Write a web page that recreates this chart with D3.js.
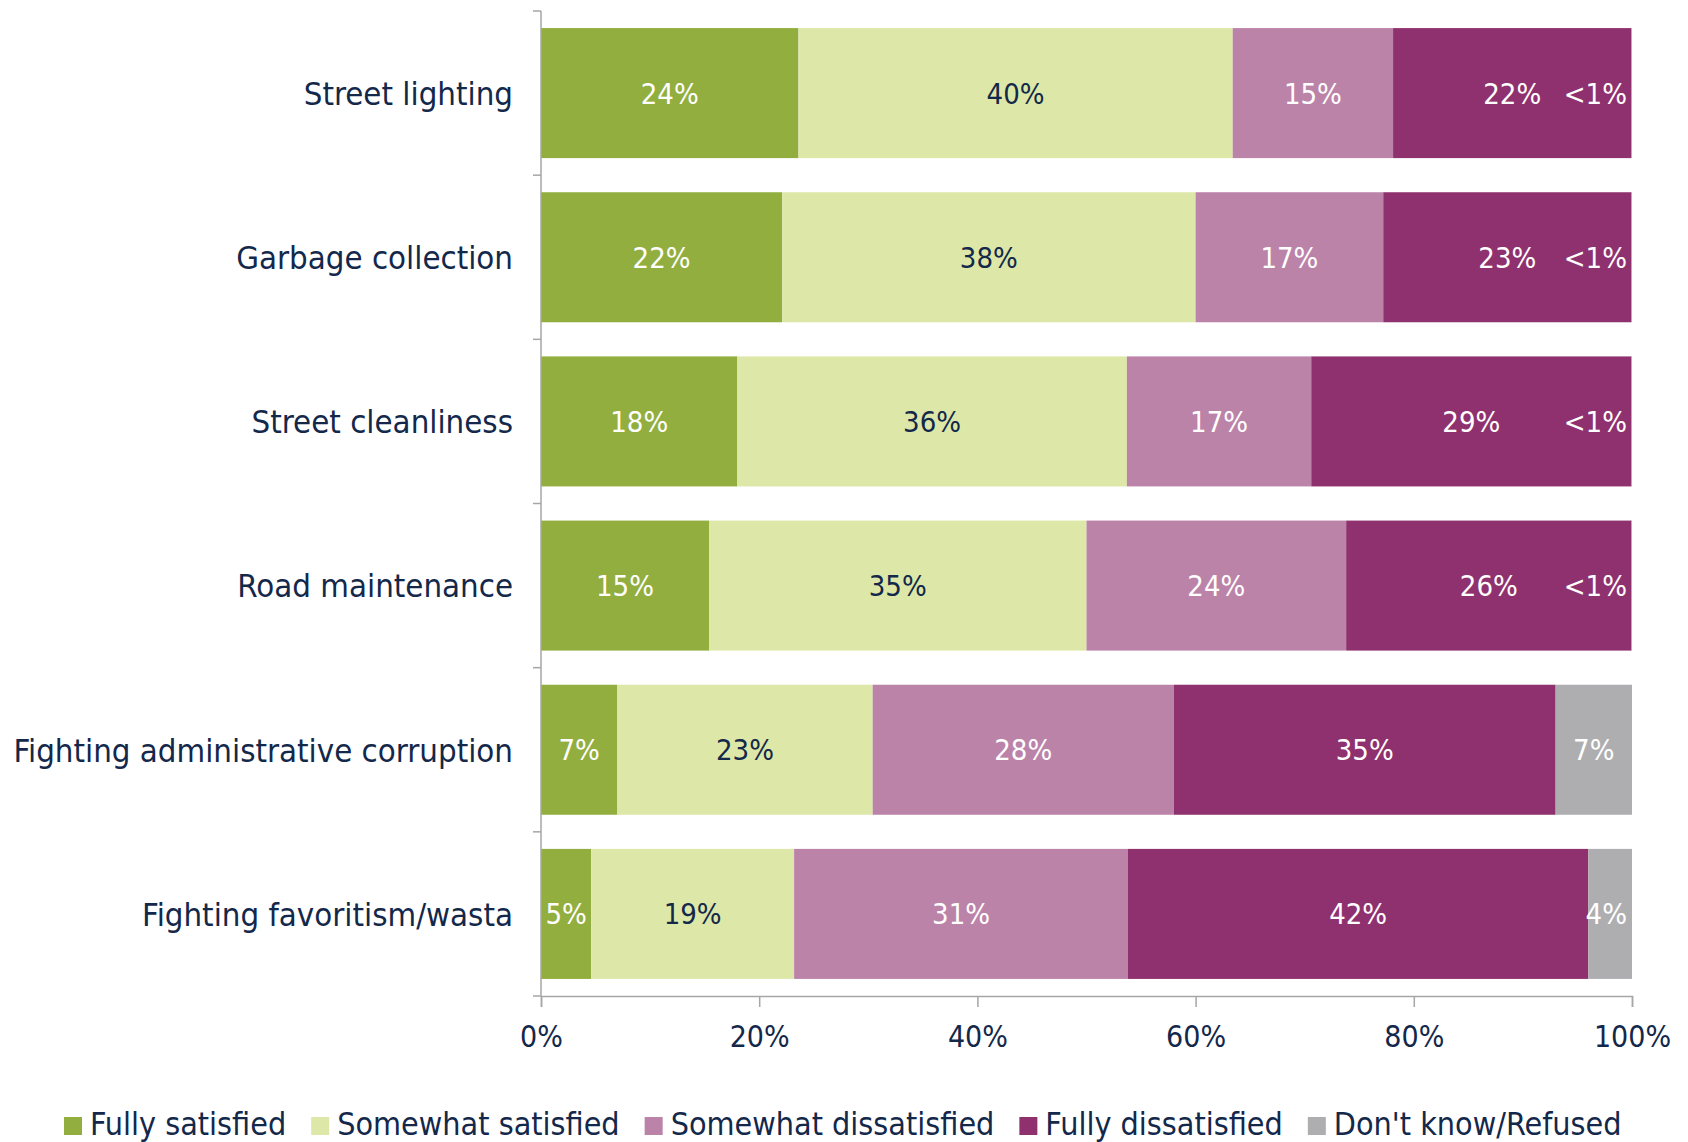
<!DOCTYPE html>
<html>
<head>
<meta charset="utf-8">
<script src="https://cdn.jsdelivr.net/npm/d3@7"></script>
<style>
  html, body { margin: 0; padding: 0; background: #ffffff; }
  svg { display: block; }
</style>
</head>
<body>
<svg id="chart" width="1688" height="1142"></svg>
<script>
// Satisfaction with municipal services (share of respondents, %)
const categories = [
  "Street lighting",
  "Garbage collection",
  "Street cleanliness",
  "Road maintenance",
  "Fighting administrative corruption",
  "Fighting favoritism/wasta"
];
const seriesNames = [
  "Fully satisfied",
  "Somewhat satisfied",
  "Somewhat dissatisfied",
  "Fully dissatisfied",
  "Don't know/Refused"
];
const fullySatisfied       = [23.6, 22.1, 18.0, 15.4, 7.0, 4.6];
const somewhatSatisfied    = [39.8, 37.9, 35.7, 34.6, 23.4, 18.6];
const somewhatDissatisfied = [14.7, 17.2, 16.9, 23.8, 27.6, 30.6];
const fullyDissatisfied    = [21.85, 22.75, 29.35, 26.15, 35.0, 42.2];
const dontKnow             = [0.05, 0.05, 0.05, 0.05, 7.0, 4.0];
const xTicks = [0, 20, 40, 60, 80, 100];

const seriesValues = [fullySatisfied, somewhatSatisfied, somewhatDissatisfied, fullyDissatisfied, dontKnow];
const colors = ["#92ae3e", "#dde8a8", "#bc83a9", "#8f316e", "#aeaeb0"];
const labelColors = ["#ffffff", "#13284a", "#ffffff", "#ffffff", "#ffffff"];

const ink = "#13284a";
const axisGrey = "#a6a6a6";
const labelFont = "'DejaVu Sans Condensed', 'Liberation Sans Narrow', sans-serif";

const W = 1688, H = 1142;
const margin = { top: 11, right: 56, bottom: 146, left: 541 };
const innerW = W - margin.left - margin.right;
const innerH = H - margin.top - margin.bottom;

const svg = d3.select("#chart");
const g = svg.append("g").attr("transform", `translate(${margin.left},${margin.top})`);

const x = d3.scaleLinear().domain([0, 100]).range([0, innerW]);
const y = d3.scaleBand().domain(categories).range([0, innerH])
  .paddingInner(0.208).paddingOuter(0.104);

// rows of stacked data
const rows = categories.map((c, i) => {
  const r = { category: c };
  seriesNames.forEach((s, k) => { r[s] = seriesValues[k][i]; });
  return r;
});
const stacked = d3.stack().keys(seriesNames)(rows);

const fmt = v => v < 1 ? "<1%" : d3.format(".0f")(v) + "%";

// bars
const layers = g.selectAll("g.layer").data(stacked).join("g")
  .attr("class", "layer")
  .attr("fill", (d, k) => colors[k]);

layers.selectAll("rect").data(d => d).join("rect")
  .attr("x", d => x(d[0]))
  .attr("y", d => y(d.data.category))
  .attr("width", d => x(d[1]) - x(d[0]))
  .attr("height", y.bandwidth());

// value labels
const valueFontSize = 29;
stacked.forEach((layer, k) => {
  const lg = g.append("g").attr("class", "values");
  layer.forEach(d => {
    const v = d[1] - d[0];
    const txt = fmt(v);
    let cx = (x(d[0]) + x(d[1])) / 2;
    const t = lg.append("text")
      .attr("y", y(d.data.category) + y.bandwidth() / 2)
      .attr("dy", "0.36em")
      .attr("text-anchor", "middle")
      .attr("fill", labelColors[k])
      .style("font-family", labelFont)
      .style("font-size", valueFontSize + "px")
      .text(txt);
    const w = t.node().getComputedTextLength();
    // keep labels of very thin segments inside the bar
    const maxX = innerW - w / 2 - 5;
    if (cx > maxX) cx = maxX;
    t.attr("x", cx);
  });
});

// y axis
const yAxis = g.append("g").attr("class", "y-axis");
yAxis.append("line")
  .attr("x1", 0).attr("x2", 0).attr("y1", 0).attr("y2", innerH)
  .attr("stroke", axisGrey).attr("stroke-width", 1.5);
d3.range(categories.length + 1).forEach(i => {
  const yy = i * y.step();
  yAxis.append("line")
    .attr("x1", -8).attr("x2", 0).attr("y1", yy).attr("y2", yy)
    .attr("stroke", axisGrey).attr("stroke-width", 1.5);
});
yAxis.selectAll("text.cat").data(categories).join("text")
  .attr("class", "cat")
  .attr("x", -28)
  .attr("y", d => y(d) + y.bandwidth() / 2)
  .attr("dy", "0.36em")
  .attr("text-anchor", "end")
  .attr("fill", ink)
  .style("font-family", labelFont)
  .style("font-size", "32.7px")
  .text(d => d);

// x axis
const xAxis = g.append("g").attr("transform", `translate(0,${innerH})`)
  .call(d3.axisBottom(x).tickValues(xTicks).tickFormat(d => d + "%").tickSize(11).tickPadding(19));
xAxis.select(".domain").attr("stroke", axisGrey).attr("stroke-width", 1.5);
xAxis.selectAll(".tick line").attr("stroke", axisGrey).attr("stroke-width", 1.5);
xAxis.selectAll(".tick text")
  .attr("fill", ink)
  .style("font-family", labelFont)
  .style("font-size", "30px");

// legend: swatch, label, spaced evenly across the bottom
const legendLeft = 64, legendRight = 1622, legendBaseline = 1135;
const swatch = 18, swatchGap = 8, itemGap = 25;
const legend = svg.append("g").attr("class", "legend");
const baseSize = 32;
const items = seriesNames.map((s, k) => {
  const t = legend.append("text")
    .attr("y", legendBaseline)
    .attr("fill", ink)
    .style("font-family", labelFont)
    .style("font-size", baseSize + "px")
    .text(s);
  return { t, w: t.node().getComputedTextLength(), k };
});
const textTotal = d3.sum(items, d => d.w);
const avail = (legendRight - legendLeft) - seriesNames.length * (swatch + swatchGap) - (seriesNames.length - 1) * itemGap;
const fs = baseSize * avail / textTotal;
let lx = legendLeft;
items.forEach(it => {
  legend.append("rect")
    .attr("x", lx).attr("y", legendBaseline - swatch)
    .attr("width", swatch).attr("height", swatch)
    .attr("fill", colors[it.k]);
  it.t.style("font-size", fs + "px").attr("x", lx + swatch + swatchGap);
  lx += swatch + swatchGap + it.t.node().getComputedTextLength() + itemGap;
});
</script>
</body>
</html>
